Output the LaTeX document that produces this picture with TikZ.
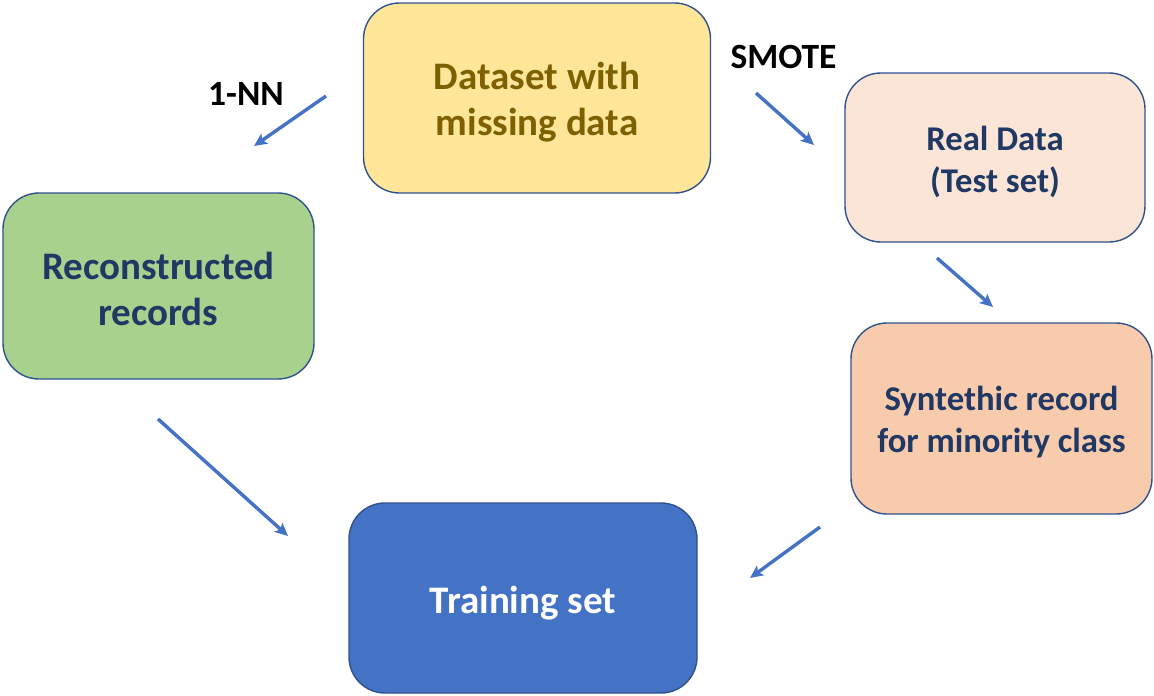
\documentclass[tikz,border=0pt]{standalone}
\usepackage{fontspec}
\setmainfont{Carlito}
\usetikzlibrary{arrows.meta}

\definecolor{edgeblue}{HTML}{2F528F}
\definecolor{arrowblue}{HTML}{4472C4}
\definecolor{goldfill}{HTML}{FFE699}
\definecolor{goldtext}{HTML}{7F6000}
\definecolor{greenfill}{HTML}{A9D18E}
\definecolor{peachfill}{HTML}{FBE5D6}
\definecolor{salmonfill}{HTML}{F8CBAD}
\definecolor{navytext}{HTML}{203864}

% centred lines of a box, lowered a little without changing the box size
\newcommand{\stagelines}[2]{%
  \raisebox{-#1}[\height][\depth]{\begin{tabular}{@{}c@{}}#2\end{tabular}}}

\tikzset{
  stage/.style={draw=edgeblue, line width=1.4pt, rounded corners=36pt,
    inner sep=0pt, text=navytext},
  bigtext/.style={font=\bfseries\fontsize{39}{46}\selectfont},
  smalltext/.style={font=\bfseries\fontsize{34.7}{42}\selectfont},
  flow/.style={draw=arrowblue, line width=3.4pt,
    -{Stealth[length=13pt,width=12pt,inset=3pt]}},
  tag/.style={font=\bfseries\fontsize{35.5}{40}\selectfont, text=black, inner sep=0pt}
}

\begin{document}
\begin{tikzpicture}[x=1pt,y=-1pt]
\useasboundingbox (0,0) rectangle (1154,696);

% the five stages
\node[stage, bigtext, fill=goldfill, text=goldtext,
      minimum width=347pt, minimum height=190pt] (data) at (537,98)
      {\stagelines{5.5pt}{Dataset with\\missing data}};
\node[stage, smalltext, fill=peachfill,
      minimum width=300pt, minimum height=169pt] (real) at (995,157.5)
      {\stagelines{6pt}{Real Data\\(Test set)}};
\node[stage, bigtext, fill=greenfill,
      minimum width=311pt, minimum height=186pt] (recon) at (158.5,286)
      {\stagelines{7pt}{Reconstructed\\records}};
\node[stage, smalltext, fill=salmonfill,
      minimum width=301pt, minimum height=191pt] (synth) at (1001.5,418.5)
      {\stagelines{4.5pt}{Syntethic record\\for minority class}};
\node[stage, bigtext, fill=arrowblue, text=white,
      minimum width=348pt, minimum height=190pt] (train) at (523,598)
      {\stagelines{6pt}{Training set}};

% method labels
\node[tag] (nn) at (246,93.5) {1-NN};
\node[tag] (smote) at (783.5,57) {SMOTE};

% arrow end points
\coordinate (a1s) at (326,96);   \coordinate (a1e) at (254,146);
\coordinate (a2s) at (756,93);   \coordinate (a2e) at (814,145);
\coordinate (a3s) at (937,258);  \coordinate (a3e) at (993,307);
\coordinate (a4s) at (158,419);  \coordinate (a4e) at (288,536);
\coordinate (a5s) at (820,527);  \coordinate (a5e) at (750,578);

\draw[flow] (a1s) -- (a1e);
\draw[flow] (a2s) -- (a2e);
\draw[flow] (a3s) -- (a3e);
\draw[flow] (a4s) -- (a4e);
\draw[flow] (a5s) -- (a5e);
\end{tikzpicture}
\end{document}
